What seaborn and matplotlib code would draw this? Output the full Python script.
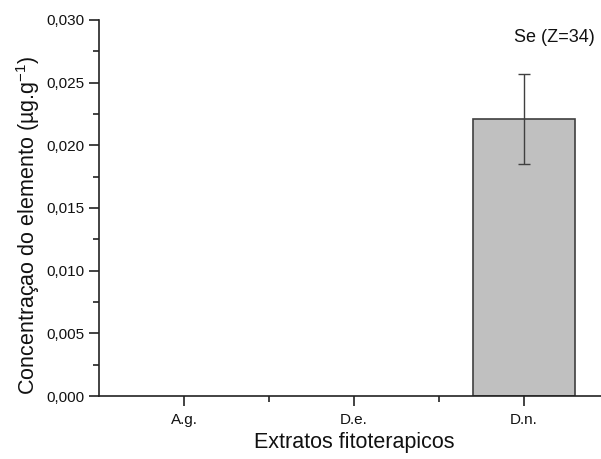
import matplotlib
matplotlib.use("Agg")
import matplotlib.pyplot as plt
import seaborn as sns
import pandas as pd
from matplotlib.ticker import MultipleLocator, FuncFormatter

categories = ["A.g.", "D.e.", "D.n."]
values = [0.0, 0.0, 0.0221]
errors = [0.0, 0.0, 0.0036]

sns.set_style("ticks")
plt.rcParams['font.family'] = ['Liberation Sans', 'DejaVu Sans']

df = pd.DataFrame({"cat": categories, "val": values})

fig = plt.figure(figsize=(6.01, 4.59), dpi=100)
ax = fig.add_axes([99/601, 63/459, 510/601, 376/459])

sns.barplot(data=df, x="cat", y="val", ax=ax, color="#c0c0c0", width=0.6,
            edgecolor="#404040", linewidth=1.2, errorbar=None, saturation=1)
for patch, v in zip(ax.patches, values):
    if v == 0:
        patch.set_linewidth(0)
for i, (v, e) in enumerate(zip(values, errors)):
    if v > 0:
        ax.errorbar(i, v, yerr=e, fmt="none", ecolor="#404040", elinewidth=1.0,
                    capsize=4, capthick=1.0)

ax.set_xlim(-0.5, 2.5)
ax.set_ylim(0, 0.030)
ax.yaxis.set_major_locator(MultipleLocator(0.005))
ax.yaxis.set_minor_locator(MultipleLocator(0.0025))
ax.yaxis.set_major_formatter(FuncFormatter(lambda v, p: f"{v:.3f}".replace(".", ",")))
ax.set_xticks([0, 1, 2])
ax.set_xticks([0.5, 1.5], minor=True)
ax.set_xticklabels(categories)
ax.tick_params(which="major", length=7, width=1.2, direction="out", labelsize=11,
               colors="#222222", labelcolor="#111111")
ax.tick_params(which="minor", length=4, width=1.2, direction="out", colors="#222222")
ax.tick_params(axis="x", which="major", pad=5)
for s in ["top", "right"]:
    ax.spines[s].set_visible(False)
for s in ["left", "bottom"]:
    ax.spines[s].set_linewidth(1.2)
    ax.spines[s].set_color("#222222")

ax.set_xlabel("Extratos fitoterapicos", fontsize=15.5, labelpad=4, color="#111111")
ax.set_ylabel("Concentraçao do elemento (µg.g$^{\\mathregular{-1}}$)", fontsize=15.5,
              color="#111111", va="center")
ax.yaxis.set_label_coords(-0.139, 0.455)
fig.text(595/601, 1 - 38/459, "Se (Z=34)", fontsize=13, ha="right", va="center",
         color="#111111")

fig.savefig("out.png", dpi=100)
